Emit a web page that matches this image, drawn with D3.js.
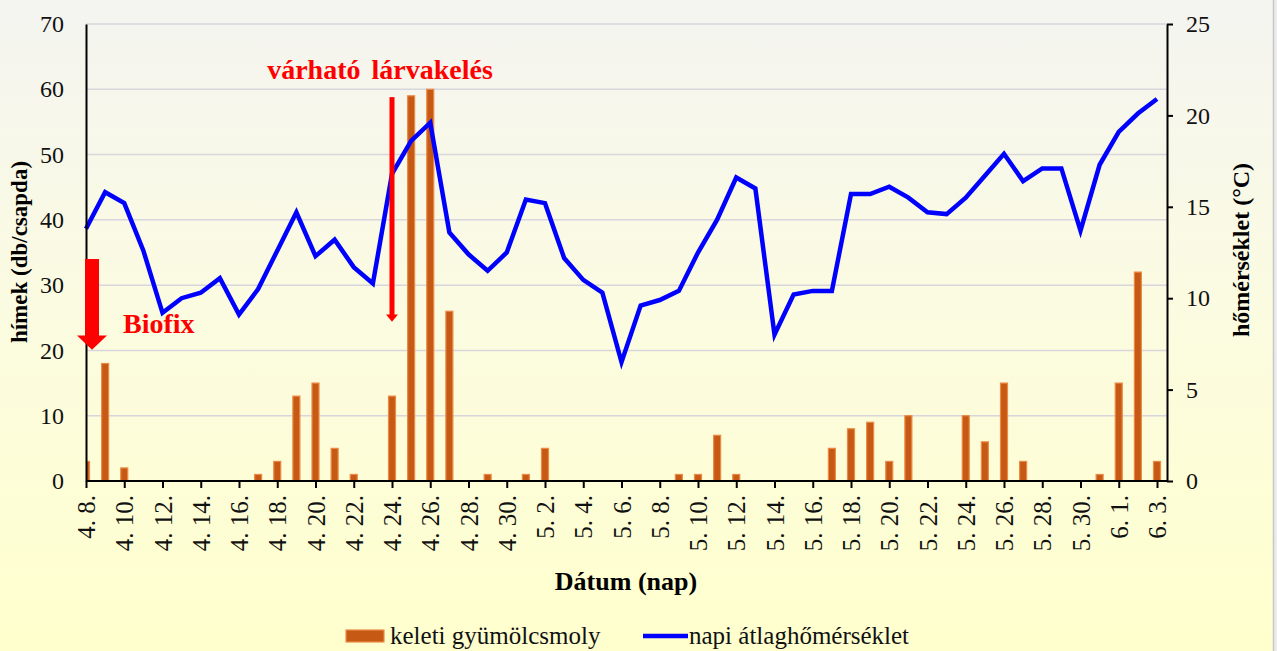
<!DOCTYPE html>
<html>
<head>
<meta charset="utf-8">
<script src="https://cdn.jsdelivr.net/npm/d3@7"></script>
<style>
  html, body { margin: 0; padding: 0; background: #ffffff; }
</style>
</head>
<body>
<div id="vis"></div>
<script>
// categories: one per day, 4.8 - 6.3
var dates = [
  "4. 8.", "4. 9.", "4. 10.", "4. 11.", "4. 12.", "4. 13.", "4. 14.", "4. 15.",
  "4. 16.", "4. 17.", "4. 18.", "4. 19.", "4. 20.", "4. 21.", "4. 22.", "4. 23.",
  "4. 24.", "4. 25.", "4. 26.", "4. 27.", "4. 28.", "4. 29.", "4. 30.",
  "5. 1.", "5. 2.", "5. 3.", "5. 4.", "5. 5.", "5. 6.", "5. 7.", "5. 8.",
  "5. 9.", "5. 10.", "5. 11.", "5. 12.", "5. 13.", "5. 14.", "5. 15.", "5. 16.",
  "5. 17.", "5. 18.", "5. 19.", "5. 20.", "5. 21.", "5. 22.", "5. 23.", "5. 24.",
  "5. 25.", "5. 26.", "5. 27.", "5. 28.", "5. 29.", "5. 30.", "5. 31.",
  "6. 1.", "6. 2.", "6. 3."
];

// keleti gyümölcsmoly, hímek (db/csapda)
var moths = [
  3, 18, 2, 0, 0, 0, 0, 0,
  0, 1, 3, 13, 15, 5, 1, 0,
  13, 59, 60, 26, 0, 1, 0,
  1, 5, 0, 0, 0, 0, 0, 0,
  1, 1, 7, 1, 0, 0, 0, 0,
  5, 8, 9, 3, 10, 0, 0, 10,
  6, 15, 3, 0, 0, 0, 1,
  15, 32, 3
];

// napi átlaghőmérséklet (°C)
var temps = [
  13.8, 15.8, 15.2, 12.6, 9.2, 10.0, 10.3, 11.1,
  9.1, 10.5, 12.6, 14.7, 12.3, 13.2, 11.7, 10.8,
  16.8, 18.6, 19.6, 13.6, 12.4, 11.5, 12.5,
  15.4, 15.2, 12.2, 11.0, 10.3, 6.5, 9.6, 9.9,
  10.4, 12.5, 14.3, 16.6, 16.0, 8.0, 10.2, 10.4,
  10.4, 15.7, 15.7, 16.1, 15.5, 14.7, 14.6, 15.5,
  16.7, 17.9, 16.4, 17.1, 17.1, 13.7, 17.3,
  19.1, 20.1, 20.9
];

var leftTicks = [0, 10, 20, 30, 40, 50, 60, 70];
var rightTicks = [0, 5, 10, 15, 20, 25];

var serif = "'Liberation Serif', serif";

var width = 1277;
var height = 651;
var plot = { left: 86, right: 1167, top: 24, bottom: 481 };

var svg = d3.select('#vis')
  .append('svg')
  .attr('width', width)
  .attr('height', height);

var defs = svg.append('defs');

var bg = defs.append('linearGradient')
  .attr('id', 'bg')
  .attr('x1', 0).attr('y1', 0)
  .attr('x2', 0).attr('y2', 1);
bg.append('stop').attr('offset', '0%').attr('stop-color', '#f4f4f1');
bg.append('stop').attr('offset', '45%').attr('stop-color', '#fbfbe2');
bg.append('stop').attr('offset', '100%').attr('stop-color', '#ffffcd');

defs.append('clipPath')
  .attr('id', 'plotclip')
  .append('rect')
  .attr('x', plot.left)
  .attr('y', plot.top - 5)
  .attr('width', plot.right - plot.left)
  .attr('height', plot.bottom - plot.top + 5);

// background
svg.append('rect')
  .attr('width', width)
  .attr('height', height)
  .attr('fill', '#ececec');
svg.append('rect')
  .attr('width', 1273)
  .attr('height', height)
  .attr('fill', 'url(#bg)');
svg.append('line')
  .attr('x1', 1273.5).attr('x2', 1273.5)
  .attr('y1', 0).attr('y2', height)
  .attr('stroke', '#c8c8c8')
  .attr('stroke-width', 1.5);

// scales
var x = d3.scalePoint()
  .domain(dates)
  .range([plot.left, 1157]);

var yLeft = d3.scaleLinear()
  .domain([0, 70])
  .range([plot.bottom, plot.top]);

var yRight = d3.scaleLinear()
  .domain([0, 25])
  .range([plot.bottom, plot.top]);

var g = svg.append('g');

// gridlines
g.selectAll('line.grid')
  .data(leftTicks.filter(function (d) { return d > 0; }))
  .enter()
  .append('line')
  .attr('class', 'grid')
  .attr('x1', plot.left)
  .attr('x2', plot.right)
  .attr('y1', function (d) { return yLeft(d); })
  .attr('y2', function (d) { return yLeft(d); })
  .attr('stroke', '#d6d6dc')
  .attr('stroke-width', 1.5);

// bars
var barW = 7;
g.append('g')
  .attr('clip-path', 'url(#plotclip)')
  .selectAll('rect.bar')
  .data(moths)
  .enter()
  .append('rect')
  .attr('class', 'bar')
  .attr('x', function (d, i) { return x(dates[i]) - barW / 2; })
  .attr('y', function (d) { return yLeft(d); })
  .attr('width', barW)
  .attr('height', function (d) { return plot.bottom - yLeft(d); })
  .attr('fill', '#c65a14')
  .attr('stroke', '#eb8a45')
  .attr('stroke-width', 1.2)
  .attr('opacity', function (d) { return d > 0 ? 1 : 0; });

// temperature line
var line = d3.line()
  .x(function (d, i) { return x(dates[i]); })
  .y(function (d) { return yRight(d); });

g.append('path')
  .datum(temps)
  .attr('d', line)
  .attr('fill', 'none')
  .attr('stroke', '#0000ff')
  .attr('stroke-width', 4.5)
  .attr('stroke-linejoin', 'miter');

// left axis
var leftAxis = d3.axisLeft(yLeft)
  .tickValues(leftTicks)
  .tickSize(0)
  .tickPadding(22);
var la = svg.append('g')
  .attr('transform', 'translate(' + plot.left + ',0)')
  .call(leftAxis);
la.select('.domain').attr('stroke', '#000').attr('stroke-width', 2);
la.selectAll('text')
  .attr('font-size', 24)
  .attr('fill', '#111');

// right axis
var rightAxis = d3.axisRight(yRight)
  .tickValues(rightTicks)
  .tickSize(6)
  .tickSizeOuter(0)
  .tickPadding(13);
var ra = svg.append('g')
  .attr('transform', 'translate(' + plot.right + ',0)')
  .call(rightAxis);
ra.select('.domain').attr('stroke', '#000').attr('stroke-width', 2);
ra.selectAll('.tick line').attr('stroke', '#000').attr('stroke-width', 2);
ra.selectAll('text')
  .attr('font-size', 24)
  .attr('fill', '#111');

// x axis, labelled every other day
var bottomAxis = d3.axisBottom(x)
  .tickValues(dates.filter(function (d, i) { return i % 2 === 0; }))
  .tickSize(7)
  .tickSizeOuter(0)
  .tickPadding(0);
var xa = svg.append('g')
  .attr('transform', 'translate(0,' + plot.bottom + ')')
  .call(bottomAxis);
xa.select('.domain')
  .attr('d', 'M' + plot.left + ',0H' + plot.right)
  .attr('stroke', '#000')
  .attr('stroke-width', 2);
xa.selectAll('.tick line').attr('stroke', '#000').attr('stroke-width', 2);
xa.selectAll('text')
  .attr('font-size', 25)
  .attr('fill', '#111')
  .attr('text-anchor', 'end')
  .attr('dy', null)
  .attr('dominant-baseline', 'central')
  .attr('transform', 'translate(0,14) rotate(-90)')
  .attr('y', 0)
  .attr('x', 0);

// axis titles
svg.append('text')
  .attr('x', 626)
  .attr('y', 590)
  .attr('text-anchor', 'middle')
  .attr('font-weight', 'bold')
  .attr('font-size', 26)
  .text('Dátum (nap)');

svg.append('text')
  .attr('transform', 'translate(27,252) rotate(-90)')
  .attr('text-anchor', 'middle')
  .attr('font-weight', 'bold')
  .attr('font-size', 23)
  .text('hímek (db/csapda)');

svg.append('text')
  .attr('transform', 'translate(1249,250) rotate(-90)')
  .attr('text-anchor', 'middle')
  .attr('font-weight', 'bold')
  .attr('font-size', 24)
  .text('hőmérséklet (°C)');

// annotations
var red = '#ff0000';

// Biofix arrow at 4.8
var bx = x(dates[0]) + 6;
svg.append('rect')
  .attr('x', bx - 7)
  .attr('y', yLeft(34))
  .attr('width', 14)
  .attr('height', yLeft(22.2) - yLeft(34))
  .attr('fill', red);
svg.append('path')
  .attr('d', 'M' + (bx - 15) + ',' + yLeft(22.3) +
    'L' + (bx + 15) + ',' + yLeft(22.3) +
    'L' + bx + ',' + yLeft(20.1) + 'Z')
  .attr('fill', red);
svg.append('text')
  .attr('x', 123)
  .attr('y', 333)
  .attr('fill', red)
  .attr('font-weight', 'bold')
  .attr('font-size', 28)
  .text('Biofix');

// várható lárvakelés arrow at 4.24
var lx = x(dates[16]);
svg.append('rect')
  .attr('x', lx - 2.5)
  .attr('y', yLeft(58.8))
  .attr('width', 5)
  .attr('height', yLeft(25.4) - yLeft(58.8))
  .attr('fill', red);
svg.append('path')
  .attr('d', 'M' + (lx - 6) + ',' + yLeft(25.5) +
    'L' + (lx + 6) + ',' + yLeft(25.5) +
    'L' + lx + ',' + yLeft(24.4) + 'Z')
  .attr('fill', red);
svg.append('text')
  .attr('x', 380)
  .attr('y', 79)
  .attr('text-anchor', 'middle')
  .attr('fill', red)
  .attr('font-weight', 'bold')
  .attr('font-size', 28)
  .attr('word-spacing', 4)
  .text('várható lárvakelés');

// legend
var legend = svg.append('g');
legend.append('rect')
  .attr('x', 346)
  .attr('y', 630)
  .attr('width', 38)
  .attr('height', 12)
  .attr('fill', '#c65a14')
  .attr('stroke', '#eb8a45')
  .attr('stroke-width', 1.2);
legend.append('text')
  .attr('x', 390)
  .attr('y', 644)
  .attr('font-size', 25)
  .attr('fill', '#111')
  .text('keleti gyümölcsmoly');
legend.append('line')
  .attr('x1', 643)
  .attr('x2', 688)
  .attr('y1', 636)
  .attr('y2', 636)
  .attr('stroke', '#0000ff')
  .attr('stroke-width', 4.5);
legend.append('text')
  .attr('x', 689)
  .attr('y', 644)
  .attr('font-size', 25)
  .attr('fill', '#111')
  .text('napi átlaghőmérséklet');

// serif for every label
svg.selectAll('text').style('font-family', serif);
</script>
</body>
</html>
